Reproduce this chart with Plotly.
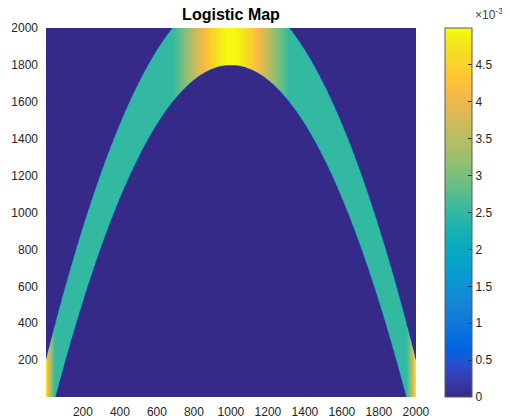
import numpy as np
import plotly.graph_objects as go

# ---- data definition (logistic map transition density) ----
grid_size = 2000          # number of states on each axis
growth_rate = 4.0         # logistic map parameter r
noise_halfwidth = 200     # uniform noise window (in states) around r*x*(1-x)
display_block = 4         # states averaged per displayed cell

colorbar_tickvals = [0, 0.0005, 0.001, 0.0015, 0.002, 0.0025, 0.003, 0.0035, 0.004, 0.0045]
colorbar_ticktext = ["0", "0.5", "1", "1.5", "2", "2.5", "3", "3.5", "4", "4.5"]
axis_tickvals = [200, 400, 600, 800, 1000, 1200, 1400, 1600, 1800, 2000]
axis_ticktext = ["200", "400", "600", "800", "1000", "1200", "1400", "1600", "1800", "2000"]

states = np.arange(1, grid_size + 1)
centre = growth_rate * (states / grid_size) * (1 - states / grid_size) * grid_size
rows = states[:, None].astype(float)
inside = np.abs(rows - centre[None, :]) <= noise_halfwidth
counts = inside.sum(axis=0)
z_full = np.where(inside, 1.0 / counts[None, :], 0.0).astype(np.float32)

nb = grid_size // display_block
z = z_full.reshape(nb, display_block, nb, display_block).mean(axis=(1, 3)).astype(np.float32)
cell_centres = (np.arange(nb) * display_block + (display_block + 1) / 2).astype(np.float32)
zmax = float(z_full.max())

parula = [
    [0.2081, 0.1663, 0.5292], [0.2116, 0.1898, 0.5777], [0.2123, 0.2138, 0.6270], [0.2081, 0.2386, 0.6771],
    [0.1959, 0.2645, 0.7279], [0.1707, 0.2919, 0.7792], [0.1253, 0.3242, 0.8303], [0.0591, 0.3598, 0.8683],
    [0.0117, 0.3875, 0.8820], [0.0060, 0.4086, 0.8828], [0.0165, 0.4266, 0.8786], [0.0329, 0.4430, 0.8720],
    [0.0498, 0.4586, 0.8641], [0.0629, 0.4737, 0.8554], [0.0723, 0.4887, 0.8467], [0.0779, 0.5040, 0.8384],
    [0.0793, 0.5200, 0.8312], [0.0749, 0.5375, 0.8263], [0.0641, 0.5570, 0.8240], [0.0488, 0.5772, 0.8228],
    [0.0343, 0.5966, 0.8199], [0.0265, 0.6137, 0.8135], [0.0239, 0.6287, 0.8038], [0.0231, 0.6418, 0.7913],
    [0.0228, 0.6535, 0.7768], [0.0267, 0.6642, 0.7607], [0.0384, 0.6743, 0.7436], [0.0590, 0.6838, 0.7254],
    [0.0843, 0.6928, 0.7062], [0.1133, 0.7015, 0.6859], [0.1453, 0.7098, 0.6646], [0.1801, 0.7177, 0.6424],
    [0.2178, 0.7250, 0.6193], [0.2586, 0.7317, 0.5954], [0.3022, 0.7376, 0.5712], [0.3482, 0.7424, 0.5473],
    [0.3953, 0.7459, 0.5244], [0.4420, 0.7481, 0.5033], [0.4871, 0.7491, 0.4840], [0.5300, 0.7491, 0.4661],
    [0.5709, 0.7485, 0.4494], [0.6099, 0.7473, 0.4337], [0.6473, 0.7456, 0.4188], [0.6834, 0.7435, 0.4044],
    [0.7184, 0.7411, 0.3905], [0.7525, 0.7384, 0.3768], [0.7858, 0.7356, 0.3633], [0.8185, 0.7327, 0.3498],
    [0.8507, 0.7299, 0.3360], [0.8824, 0.7274, 0.3217], [0.9139, 0.7258, 0.3063], [0.9450, 0.7261, 0.2886],
    [0.9739, 0.7314, 0.2666], [0.9938, 0.7455, 0.2403], [0.9990, 0.7653, 0.2164], [0.9955, 0.7861, 0.1967],
    [0.9880, 0.8066, 0.1794], [0.9789, 0.8271, 0.1633], [0.9697, 0.8481, 0.1475], [0.9626, 0.8705, 0.1309],
    [0.9589, 0.8949, 0.1132], [0.9598, 0.9218, 0.0948], [0.9661, 0.9514, 0.0755], [0.9763, 0.9831, 0.0538],
]
n = len(parula)
colorscale = [[i / (n - 1), "rgb(%d,%d,%d)" % tuple(round(c * 255) for c in col)] for i, col in enumerate(parula)]

font = "Liberation Sans, Arial, sans-serif"
tick_font = dict(family=font, size=12, color="#262626")

# page body has an 8px default margin; figure is sized/offset to compensate
W, H = 502, 412

fig = go.Figure(go.Heatmap(
    x=cell_centres, y=cell_centres, z=z,
    zmin=0, zmax=zmax, colorscale=colorscale, zsmooth="fast",
    colorbar=dict(
        x=(445 - 46) / 370, xanchor="left", xref="paper",
        y=0, yanchor="bottom", len=1, lenmode="fraction",
        thickness=27, thicknessmode="pixels",
        outlinecolor="#5a5a5a", outlinewidth=1,
        tickvals=colorbar_tickvals, ticktext=colorbar_ticktext,
        ticks="inside", ticklen=4, tickcolor="#333333",
        tickfont=tick_font,
        xpad=0, ypad=0,
    ),
))

fig.update_layout(
    width=W, height=H,
    margin=dict(l=38, r=94, t=20, b=23, autoexpand=False),
    paper_bgcolor="white", plot_bgcolor="white",
    title=dict(text="<b>Logistic Map</b>", x=223 / W, xanchor="center", y=1, yanchor="top",
               pad=dict(t=1),
               font=dict(family=font, size=16, color="#000000")),
    xaxis=dict(range=[0.5, 2000.5], tickvals=axis_tickvals, ticktext=axis_ticktext,
               showgrid=False, zeroline=False, showline=False, ticks="",
               ticklabelstandoff=6, tickfont=tick_font),
    yaxis=dict(range=[0.5, 2000.5], tickvals=axis_tickvals, ticktext=axis_ticktext,
               showgrid=False, zeroline=False, showline=False, ticks="",
               ticklabelstandoff=7, tickfont=tick_font),
    annotations=[dict(text="×10<sup>-3</sup>", xref="paper", yref="paper",
                      x=(473 - 46) / 370, y=1, xanchor="left", yanchor="bottom", yshift=4,
                      showarrow=False, font=dict(family=font, size=12, color="#404040"))],
)

fig.write_html("out.html")
